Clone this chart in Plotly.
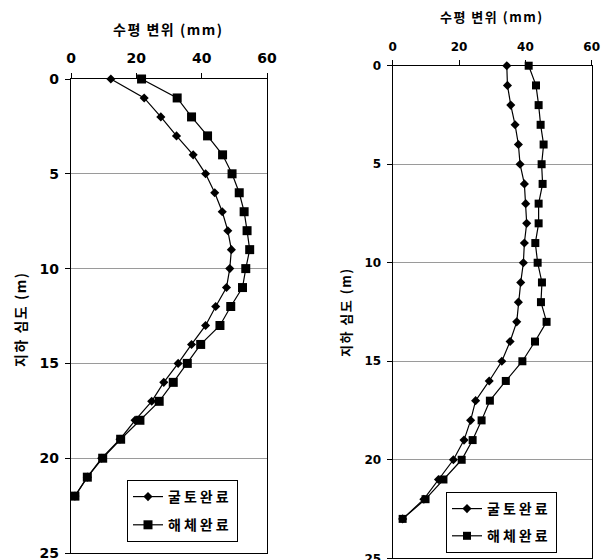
import plotly.graph_objects as go

depth_left = list(range(0, 23))
left_excav = [12.2, 22.4, 27.5, 32.3, 37.4, 41.2, 44.0, 46.3, 48.0, 49.1, 48.6, 47.6,
              44.3, 41.2, 36.9, 32.8, 28.4, 24.7, 19.6, 15.0, 9.4, 5.0, 1.2]
left_demol = [21.6, 32.5, 36.9, 41.8, 46.4, 49.3, 51.5, 53.0, 53.9, 54.7, 53.5, 52.5,
              48.9, 45.6, 39.7, 35.6, 31.3, 27.0, 21.1, 15.2, 9.7, 5.0, 1.2]

depth_right = list(range(0, 24))
right_excav = [34.4, 34.6, 35.6, 36.9, 37.9, 38.4, 39.7, 40.1, 40.4, 39.7, 39.4, 38.6,
               37.9, 37.4, 35.4, 32.9, 29.1, 25.0, 23.5, 21.5, 18.3, 13.8, 9.4, 3.0]
right_demol = [41.0, 43.2, 44.0, 44.6, 45.5, 44.9, 45.2, 44.0, 44.0, 43.0, 43.7, 45.0,
               44.7, 46.4, 42.9, 39.1, 34.1, 29.3, 26.8, 24.1, 20.8, 15.3, 9.9, 3.0]

series_names = ["굴토완료", "해체완료"]
x_ticks = [0, 20, 40, 60]
y_ticks = [0, 5, 10, 15, 20, 25]
x_title = "수평 변위 (mm)"
y_title = "지하 심도 (m)"

W, H, OFF = 609, 560, 8  # page body margin offset


def px(x):
    return (x - OFF) / W


def py(y):
    return 1 - (y - OFF) / H


def spaced(t, s):
    return f'<span style="letter-spacing:{s}px">{t}</span>'


FONT = "DejaVu Sans, Noto Sans CJK KR, sans-serif"
KFONT = "Noto Sans CJK KR, sans-serif"

fig = go.Figure()


def add_pair(xa, ya, depth, s1, s2, legend, sq):
    fig.add_trace(go.Scatter(x=s1, y=depth, mode="lines+markers",
                             name=spaced(series_names[0], 3),
                             xaxis=xa, yaxis=ya, legend=legend, legendgroup=legend + "a",
                             cliponaxis=False,
                             line=dict(color="black", width=1.2),
                             marker=dict(symbol="diamond", size=7, color="black")))
    fig.add_trace(go.Scatter(x=s2, y=depth, mode="lines+markers",
                             name=spaced(series_names[1], 3),
                             xaxis=xa, yaxis=ya, legend=legend, legendgroup=legend + "b",
                             cliponaxis=False,
                             line=dict(color="black", width=1.2),
                             marker=dict(symbol="square", size=sq, color="black")))


add_pair("x", "y", depth_left, left_excav, left_demol, "legend", 9)
add_pair("x2", "y2", depth_right, right_excav, right_demol, "legend2", 8)


def xaxis(domain, anchor, size, standoff):
    return dict(domain=domain, anchor=anchor, side="top", range=[0, 60],
                tickvals=x_ticks, showgrid=False, zeroline=False, automargin=False,
                showline=True, linecolor="black", linewidth=1.2, mirror=True,
                ticks="outside", ticklen=5, tickcolor="black", ticklabelstandoff=standoff,
                tickfont=dict(family=FONT, size=size, color="black", weight="bold"))


def yaxis(domain, anchor, size, standoff):
    return dict(domain=domain, anchor=anchor, range=[25, 0], automargin=False,
                tickvals=y_ticks, showgrid=True, gridcolor="#9a9a9a", gridwidth=1,
                zeroline=False, showline=True, linecolor="black", linewidth=1.2,
                mirror=True, ticks="outside", ticklen=5, tickcolor="black",
                ticklabelstandoff=standoff,
                tickfont=dict(family=FONT, size=size, color="black", weight="bold"))


fig.update_layout(
    width=W, height=H,
    margin=dict(l=0, r=0, t=0, b=0, autoexpand=False),
    paper_bgcolor="white", plot_bgcolor="white",
    xaxis=xaxis([px(71), px(267)], "y", 14, 4),
    yaxis=yaxis([py(553), py(79)], "x", 14, 3),
    xaxis2=xaxis([px(392.7), px(591.7)], "y2", 12, 4),
    yaxis2=yaxis([py(558.3), py(65.7)], "x2", 12, 3),
    legend=dict(x=px(127), y=py(480), xanchor="left", yanchor="top",
                bordercolor="black", borderwidth=1, bgcolor="white", tracegroupgap=7,
                font=dict(family=KFONT, size=14, color="black", weight="bold")),
    legend2=dict(x=px(446), y=py(492), xanchor="left", yanchor="top",
                 bordercolor="black", borderwidth=1, bgcolor="white", tracegroupgap=6,
                 font=dict(family=KFONT, size=14, color="black", weight="bold")),
    showlegend=True,
)

f15 = dict(family=KFONT, size=14, color="black", weight="bold")
f14 = dict(family=KFONT, size=13, color="black", weight="bold")
fig.add_annotation(text=spaced(x_title, 1.5), x=px(168), y=py(29), xref="paper", yref="paper",
                   showarrow=False, font=f15, xanchor="center", yanchor="middle")
fig.add_annotation(text=spaced(x_title, 1.5), x=px(492), y=py(17), xref="paper", yref="paper",
                   showarrow=False, font=f14, xanchor="center", yanchor="middle")
fig.add_annotation(text=spaced(y_title, 1.5), x=px(20), y=py(320), xref="paper", yref="paper",
                   showarrow=False, font=f15, textangle=-90,
                   xanchor="center", yanchor="middle")
fig.add_annotation(text=spaced(y_title, 1.5), x=px(345), y=py(312), xref="paper", yref="paper",
                   showarrow=False, font=f14, textangle=-90,
                   xanchor="center", yanchor="middle")

fig.write_html("out.html")
